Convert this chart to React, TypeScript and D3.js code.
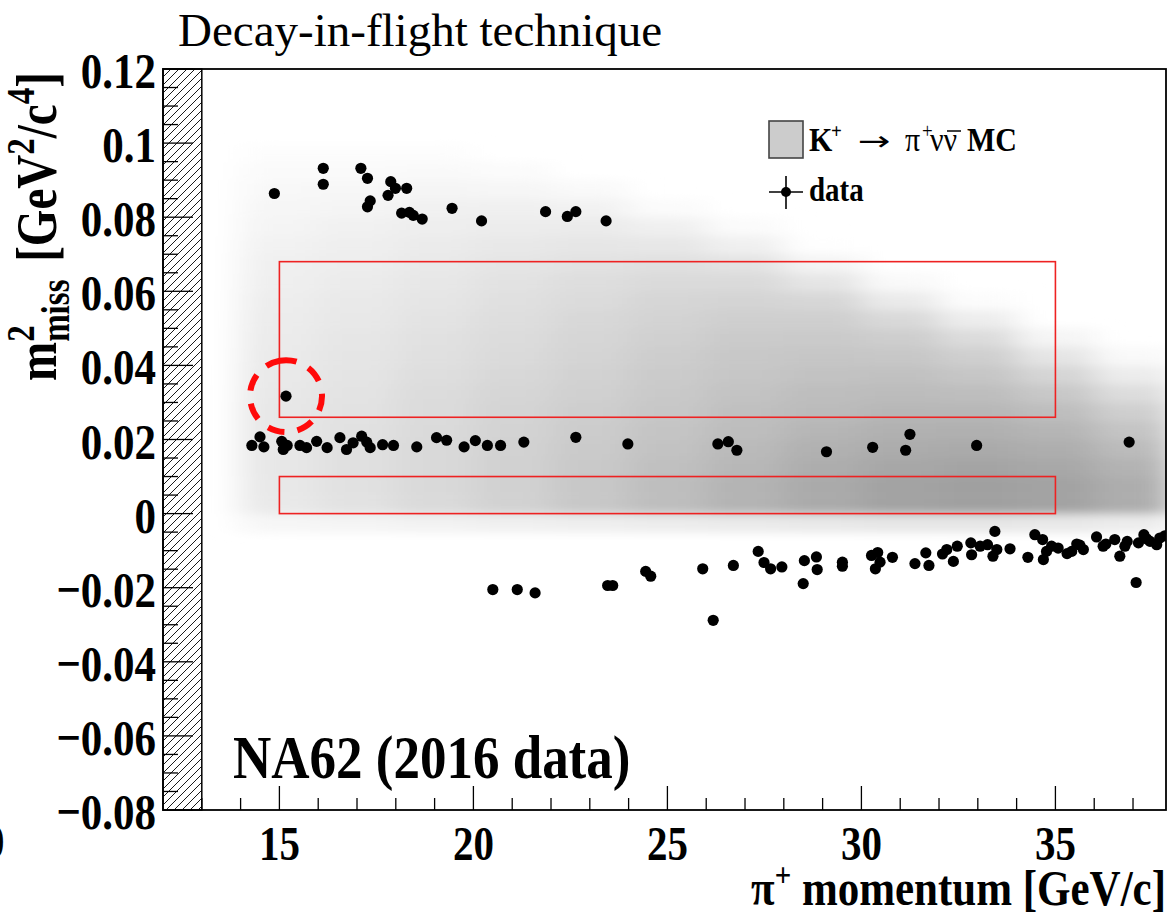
import React from 'react';
import * as d3 from 'd3';

// ---------- data ----------
const xDomain: [number, number] = [12, 37.85];
const yDomain: [number, number] = [-0.08, 0.12];

const xMajorTicks = [15, 20, 25, 30, 35];
const xTickLabels = ['15', '20', '25', '30', '35'];
const yMajorTicks = [-0.08, -0.06, -0.04, -0.02, 0, 0.02, 0.04, 0.06, 0.08, 0.1, 0.12];
const yTickLabels = ['\u22120.08', '\u22120.06', '\u22120.04', '\u22120.02', '0', '0.02', '0.04', '0.06', '0.08', '0.1', '0.12'];

// signal regions [pMin, pMax, m2Min, m2Max]
const regions: [number, number, number, number][] = [
  [15, 35, 0.026, 0.068],
  [15, 35, 0.0, 0.01],
];

// K+ -> pi+ nu nubar MC (gray level per cell, 255 = empty)
const mcPEdges = [14, 16, 18, 20, 22, 24, 26, 28, 30, 32, 34, 36, 38];
const mcM2Lows = [-0.005, 0, 0.005, 0.01, 0.015, 0.02, 0.025, 0.03, 0.035, 0.04, 0.045, 0.05, 0.055, 0.06, 0.065, 0.07, 0.075, 0.08, 0.085, 0.09, 0.095];
const mcBinH = 0.005;
const mcGray: number[][] = [
  [246, 233, 232, 231, 231, 231, 231, 232, 233, 234, 235, 236, 237, 239, 240, 242, 244, 246, 248, 250, 253],
  [244, 226, 225, 224, 224, 225, 226, 227, 228, 229, 230, 232, 233, 235, 237, 239, 241, 244, 247, 250, 253],
  [242, 218, 217, 217, 217, 218, 219, 220, 222, 224, 225, 227, 229, 231, 233, 235, 238, 241, 245, 249, 253],
  [240, 210, 209, 209, 210, 211, 212, 214, 216, 218, 220, 222, 224, 226, 229, 232, 236, 240, 246, 251, 255],
  [238, 200, 200, 201, 202, 204, 206, 208, 210, 212, 214, 216, 219, 222, 226, 230, 235, 242, 249, 255, 255],
  [236, 190, 190, 192, 194, 196, 199, 201, 203, 205, 208, 211, 214, 218, 224, 231, 240, 251, 255, 255, 255],
  [234, 180, 180, 183, 186, 189, 192, 195, 198, 200, 203, 207, 212, 218, 227, 240, 251, 255, 255, 255, 255],
  [232, 170, 170, 173, 177, 182, 187, 190, 194, 198, 202, 207, 215, 229, 244, 254, 255, 255, 255, 255, 255],
  [230, 163, 163, 167, 172, 177, 183, 188, 193, 199, 206, 217, 234, 249, 255, 255, 255, 255, 255, 255, 255],
  [230, 160, 160, 164, 170, 176, 183, 190, 198, 207, 220, 237, 252, 255, 255, 255, 255, 255, 255, 255, 255],
  [232, 163, 163, 168, 174, 181, 190, 200, 213, 229, 245, 255, 255, 255, 255, 255, 255, 255, 255, 255, 255],
  [236, 173, 173, 179, 187, 196, 207, 221, 236, 249, 255, 255, 255, 255, 255, 255, 255, 255, 255, 255, 255],
];

// data events: pi+ momentum [GeV/c], m2miss [GeV^2/c^4]
const dataUpper: [number, number][] = [
  [14.87, 0.0864], [16.13, 0.0932], [16.13, 0.0889], [17.10, 0.0932], [17.27, 0.0905],
  [17.87, 0.0896], [17.99, 0.0878], [18.28, 0.0878], [17.80, 0.0859], [17.34, 0.0844],
  [17.27, 0.0828], [18.15, 0.0811], [18.35, 0.0813], [18.45, 0.0805], [18.68, 0.0795],
  [19.45, 0.0824], [20.21, 0.0790], [21.86, 0.0815], [22.42, 0.0802], [22.64, 0.0815],
  [23.42, 0.0790],
];
const dataSignal: [number, number][] = [[15.17, 0.0317]];
const dataMiddle: [number, number][] = [
  [14.29, 0.0184], [14.50, 0.0207], [14.60, 0.0180], [15.06, 0.0195], [15.10, 0.0173],
  [15.20, 0.0184], [15.53, 0.0184], [15.70, 0.0178], [15.96, 0.0195], [16.23, 0.0178],
  [16.56, 0.0205], [16.73, 0.0173], [16.90, 0.0191], [17.12, 0.0209], [17.25, 0.0193],
  [17.34, 0.0178], [17.66, 0.0186], [17.94, 0.0184], [18.54, 0.0180], [19.05, 0.0205],
  [19.31, 0.0198], [19.76, 0.0180], [20.05, 0.0197], [20.36, 0.0184], [20.70, 0.0184],
  [21.30, 0.0193], [22.64, 0.0206], [23.98, 0.0188], [26.30, 0.0188], [26.57, 0.0194],
  [26.79, 0.0171], [29.10, 0.0167], [30.29, 0.0179], [31.25, 0.0214], [31.14, 0.0171],
  [32.97, 0.0184], [36.90, 0.0193],
];
const dataLower: [number, number][] = [
  [20.50, -0.0205], [21.13, -0.0205], [21.59, -0.0214], [23.46, -0.0194], [23.59, -0.0194],
  [24.44, -0.0156], [24.57, -0.0169], [25.91, -0.0149], [26.18, -0.0288], [26.70, -0.0140],
  [27.34, -0.0102], [27.49, -0.0132], [27.66, -0.0149], [27.95, -0.0144], [28.53, -0.0127],
  [28.50, -0.0189], [28.84, -0.0117], [28.86, -0.0151], [29.51, -0.0131], [29.51, -0.0142],
  [30.26, -0.0113], [30.42, -0.0105], [30.36, -0.0149], [30.48, -0.0131], [30.80, -0.0118],
  [31.38, -0.0135], [31.66, -0.0106], [31.74, -0.0140], [32.09, -0.0109], [32.20, -0.0097],
  [32.37, -0.0129], [32.47, -0.0088], [32.82, -0.0079], [32.84, -0.0111], [33.06, -0.0088],
  [33.25, -0.0084], [33.39, -0.0115], [33.49, -0.0097], [33.44, -0.0048], [33.83, -0.0095],
  [34.29, -0.0118], [34.47, -0.0057], [34.67, -0.0070], [34.69, -0.0124], [34.77, -0.0102],
  [34.90, -0.0088], [35.07, -0.0093], [35.42, -0.0102], [35.55, -0.0082], [35.72, -0.0097],
  [36.06, -0.0063], [36.23, -0.0088], [36.53, -0.0070], [36.66, -0.0115], [36.79, -0.0088],
  [37.08, -0.0186], [37.14, -0.0079], [37.28, -0.0057], [37.44, -0.0075], [37.61, -0.0084],
  [37.69, -0.0066], [37.82, -0.0060], [35.30, -0.0108], [35.63, -0.0085], [36.30, -0.0082],
  [36.85, -0.0075], [37.35, -0.0068],
];
const excludedRegion: [number, number] = [12, 13];

// ---------- layout ----------
const W = 1172;
const H = 918;
const left = 163, right = 1166, top = 69, bottom = 810;
const SY = 1.2; // vertical glyph stretch of the original rendering
const FONT = '"Liberation Serif", "Times New Roman", serif';

const StretchText: React.FC<any> = ({ x, y, sx = 1, sy = SY, children, ...rest }) => (
  <g transform={`translate(${x},${y}) scale(${sx},${sy})`}>
    <text x={0} y={0} fontFamily={FONT} {...rest}>{children}</text>
  </g>
);

export default function App() {
  const x = d3.scaleLinear().domain(xDomain).range([left, right]);
  const y = d3.scaleLinear().domain(yDomain).range([bottom, top]);

  const xMinor = x.ticks(26).filter((t) => Number.isInteger(t) && t % 5 !== 0 && t > xDomain[0]);
  const yMinor = y.ticks(40).filter((t) => !yMajorTicks.some((m) => Math.abs(m - t) < 1e-9));

  const allData = [...dataUpper, ...dataSignal, ...dataMiddle, ...dataLower];

  const mcCells: { x0: number; x1: number; y0: number; y1: number; g: number }[] = [];
  mcGray.forEach((col, i) => {
    col.forEach((g, j) => {
      if (g >= 255) return;
      mcCells.push({
        x0: x(mcPEdges[i]),
        x1: x(mcPEdges[i + 1]),
        y0: y(mcM2Lows[j] + mcBinH),
        y1: y(mcM2Lows[j]),
        g,
      });
    });
  });

  return (
    <svg width={W} height={H} style={{ position: 'absolute', left: 0, top: 0, background: '#fff' }}>
      <defs>
        <clipPath id="plotClip">
          <rect x={left} y={top} width={right - left} height={bottom - top} />
        </clipPath>
        <filter id="mcBlur" x="-20%" y="-20%" width="140%" height="140%">
          <feGaussianBlur stdDeviation="16 5" />
        </filter>
        <pattern id="hatch" patternUnits="userSpaceOnUse" width={8} height={8}>
          <path d="M-2,2 L2,-2 M0,8 L8,0 M6,10 L10,6" stroke="#000" strokeWidth={0.9} />
        </pattern>
      </defs>

      <rect x={0} y={0} width={W} height={H} fill="#fff" />

      {/* MC density */}
      <g clipPath="url(#plotClip)">
        <g filter="url(#mcBlur)">
          {mcCells.map((c, k) => (
            <rect key={k} x={c.x0} y={c.y0} width={c.x1 - c.x0 + 0.5} height={c.y1 - c.y0 + 0.5}
              fill={`rgb(${c.g},${c.g},${c.g})`} />
          ))}
        </g>
      </g>

      {/* excluded (hatched) region */}
      <rect x={x(excludedRegion[0])} y={top} width={x(excludedRegion[1]) - x(excludedRegion[0])}
        height={bottom - top} fill="url(#hatch)" stroke="#000" strokeWidth={1.5} />

      {/* signal regions */}
      {regions.map((r, i) => (
        <rect key={i} x={x(r[0])} y={y(r[3])} width={x(r[1]) - x(r[0])} height={y(r[2]) - y(r[3])}
          fill="none" stroke="#ee2222" strokeWidth={1.6} />
      ))}

      {/* data */}
      <g clipPath="url(#plotClip)">
        {allData.map((d, i) => (
          <circle key={i} cx={x(d[0])} cy={y(d[1])} r={5.6} fill="#000" />
        ))}
      </g>

      {/* highlighted event */}
      {dataSignal.map((d, i) => (
        <circle key={i} cx={x(d[0])} cy={y(d[1])} r={36} fill="none" stroke="#ff0a0a"
          strokeWidth={6} strokeDasharray="17 13.2" transform={`rotate(-100 ${x(d[0])} ${y(d[1])})`} />
      ))}

      {/* frame */}
      <rect x={left} y={top} width={right - left} height={bottom - top} fill="none" stroke="#000" strokeWidth={1.8} />

      {/* y ticks */}
      {yMajorTicks.map((t) => (
        <line key={`ym${t}`} x1={left} x2={left + 30} y1={y(t)} y2={y(t)} stroke="#000" strokeWidth={1.3} />
      ))}
      {yMinor.map((t) => (
        <line key={`yn${t}`} x1={left} x2={left + 15} y1={y(t)} y2={y(t)} stroke="#000" strokeWidth={1.3} />
      ))}
      {/* x ticks */}
      {xMajorTicks.map((t) => (
        <line key={`xm${t}`} x1={x(t)} x2={x(t)} y1={bottom} y2={bottom - 24} stroke="#000" strokeWidth={1.3} />
      ))}
      {xMinor.map((t) => (
        <line key={`xn${t}`} x1={x(t)} x2={x(t)} y1={bottom} y2={bottom - 12} stroke="#000" strokeWidth={1.3} />
      ))}

      {/* y tick labels */}
      {yMajorTicks.map((t, i) => (
        <StretchText key={`yl${t}`} x={156} y={y(t) + 19} fontSize={43} fontWeight="bold" textAnchor="end">
          {yTickLabels[i]}
        </StretchText>
      ))}
      {/* x tick labels */}
      {xMajorTicks.map((t, i) => (
        <StretchText key={`xl${t}`} x={x(t)} y={860} fontSize={41} fontWeight="bold" textAnchor="middle">
          {xTickLabels[i]}
        </StretchText>
      ))}
      <StretchText x={-16} y={858} fontSize={41} fontWeight="bold">0</StretchText>

      {/* axis titles */}
      <StretchText x={right} y={905} fontSize={43} fontWeight="bold" textAnchor="end" sy={1.16}>
        <tspan>π</tspan>
        <tspan fontSize={29} dy={-16}>+</tspan>
        <tspan dy={16}>{' momentum [GeV/c]'}</tspan>
      </StretchText>

      <g transform={`translate(56,381) rotate(-90) scale(1,${SY})`}>
        <text x={0} y={0} fontFamily={FONT} fontSize={47} fontWeight="bold">
          <tspan>m</tspan>
          <tspan fontSize={33} dy={-18}>2</tspan>
          <tspan fontSize={33} dx={-16.5} dy={29}>miss</tspan>
          <tspan dx={6} dy={-11}>{' [GeV'}</tspan>
          <tspan fontSize={33} dy={-18}>2</tspan>
          <tspan dy={18}>/c</tspan>
          <tspan fontSize={33} dy={-18}>4</tspan>
          <tspan dy={18}>]</tspan>
        </text>
      </g>

      {/* title */}
      <text x={178} y={46} fontFamily={FONT} fontSize={47}>Decay-in-flight technique</text>

      {/* experiment label */}
      <StretchText x={233} y={778} fontSize={53} fontWeight="bold" sy={1.17}>NA62 (2016 data)</StretchText>

      {/* legend */}
      <rect x={769} y={121} width={34} height={37} fill="#cccccc" stroke="#444" strokeWidth={1.6} />
      <StretchText x={809} y={151} fontSize={30} sy={1.15}>
        <tspan x={0} fontWeight="bold">K</tspan>
        <tspan x={22} dy={-11} fontSize={19} fontWeight="bold">+</tspan>
      </StretchText>
      <StretchText x={858} y={150} sx={1.45} sy={1} fontSize={27} fontFamily='"DejaVu Sans", sans-serif'>→</StretchText>
      <StretchText x={905} y={151} fontSize={30} sy={1.15}>
        <tspan x={0}>π</tspan>
        <tspan x={17} dy={-11} fontSize={19}>+</tspan>
        <tspan x={25} dy={11}>νν</tspan>
        <tspan x={62} fontWeight="bold">MC</tspan>
      </StretchText>
      <line x1={947} x2={961} y1={131} y2={131} stroke="#000" strokeWidth={1.5} />

      <line x1={769} x2={803} y1={192} y2={192} stroke="#000" strokeWidth={1.6} />
      <line x1={786} x2={786} y1={176} y2={209} stroke="#000" strokeWidth={1.6} />
      <circle cx={786} cy={192} r={5} fill="#000" />
      <StretchText x={809} y={201} fontSize={29} fontWeight="bold" sy={1.18}>data</StretchText>
    </svg>
  );
}
